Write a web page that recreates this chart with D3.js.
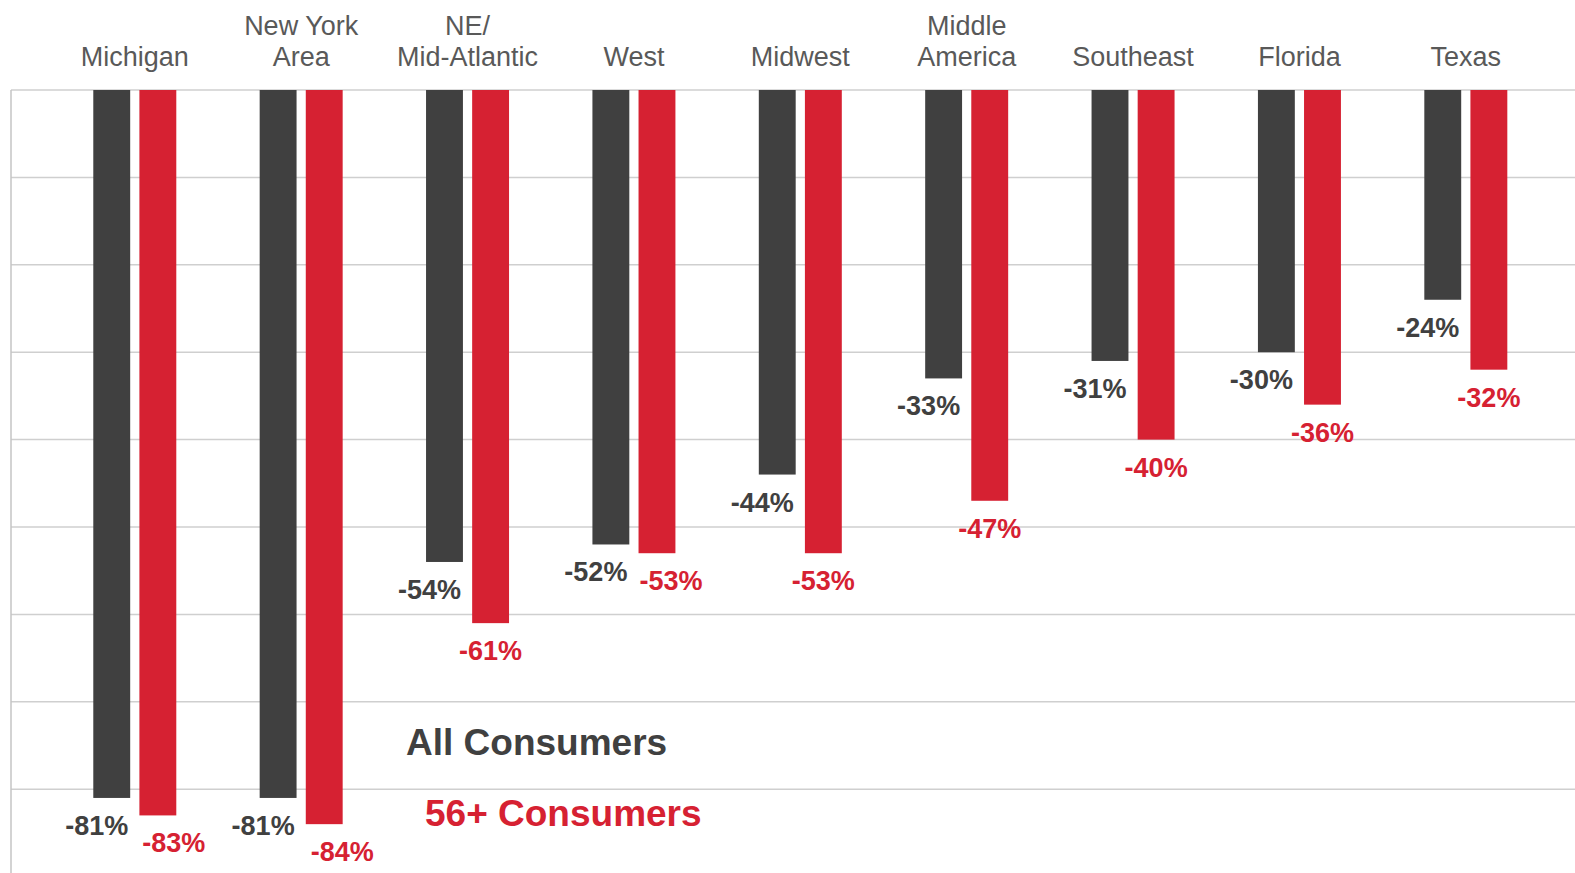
<!DOCTYPE html>
<html>
<head>
<meta charset="utf-8">
<script src="https://cdn.jsdelivr.net/npm/d3@7"></script>
<style>
  html, body { margin: 0; padding: 0; background: #fff; }
  svg { display: block; font-family: "Liberation Sans", Arial, sans-serif; }
</style>
</head>
<body>
<svg id="chart" width="1575" height="873"></svg>
<script>
// Regions (category labels may span two lines)
const regions = [
  ["Michigan"], ["New York", "Area"], ["NE/", "Mid-Atlantic"], ["West"], ["Midwest"],
  ["Middle", "America"], ["Southeast"], ["Florida"], ["Texas"]
];
const regionKeys = regions.map(r => r.join(" "));

// Change by region, percent
const allConsumers = [-81, -81, -54, -52, -44, -33, -31, -30, -24];
const consumers56 = [-83, -84, -61, -53, -53, -47, -40, -36, -32];

const seriesNames = ["All Consumers", "56+ Consumers"];
const gridTicks = [0, -10, -20, -30, -40, -50, -60, -70, -80, -90];

const colors = { "All Consumers": "#404040", "56+ Consumers": "#D62132" };

const svg = d3.select("#chart");
const W = 1575, H = 873;

const y = d3.scaleLinear().domain([-90, 0]).range([876.6, 90]);
const x0 = d3.scaleBand().domain(regionKeys).range([51.6, 1549]);
const x1 = d3.scaleBand().domain(seriesNames).range([-41.5, 41.5]).paddingInner(0.2);

// Percent label with a plain hyphen for the sign
const pct = v => (v < 0 ? "-" : "") + Math.abs(Math.round(v)) + "%";

// Horizontal gridlines
svg.append("g")
  .selectAll("line")
  .data(gridTicks)
  .join("line")
  .attr("x1", 11).attr("x2", W)
  .attr("y1", d => y(d)).attr("y2", d => y(d))
  .attr("stroke", "#CFCFCF")
  .attr("stroke-width", 1.5);

// Vertical axis line
svg.append("line")
  .attr("x1", 11).attr("x2", 11)
  .attr("y1", y(0)).attr("y2", H)
  .attr("stroke", "#C4C4C4")
  .attr("stroke-width", 1.5);

const rows = regionKeys.map((k, i) => ({
  key: k,
  values: [
    { s: "All Consumers", v: allConsumers[i] },
    { s: "56+ Consumers", v: consumers56[i] }
  ]
}));

const groups = svg.append("g")
  .selectAll("g")
  .data(rows)
  .join("g")
  .attr("transform", d => `translate(${x0(d.key) + x0.bandwidth() / 2},0)`);

groups.selectAll("rect")
  .data(d => d.values)
  .join("rect")
  .attr("x", d => x1(d.s))
  .attr("width", x1.bandwidth())
  .attr("y", y(0))
  .attr("height", d => y(d.v) - y(0))
  .attr("fill", d => colors[d.s]);

// Value labels: grey ones sit left of their bar; red ones move right when
// they would collide with the neighbouring grey label
groups.selectAll("text.val")
  .data(d => d.values.map(v => ({ ...v, other: d.values.find(o => o.s !== v.s).v })))
  .join("text")
  .attr("class", "val")
  .attr("x", d => {
    const c = x1(d.s) + x1.bandwidth() / 2;
    if (d.s === "All Consumers") return c - 15;
    const gap = Math.abs(d.v - d.other);
    return gap < 5 ? c + 12 + gap * 2 : c;
  })
  .attr("y", d => y(d.v) + 37)
  .attr("text-anchor", "middle")
  .attr("font-size", 27)
  .attr("font-weight", "bold")
  .attr("fill", d => colors[d.s])
  .text(d => pct(d.v));

// Region names above the plot
const catLabels = svg.append("g")
  .selectAll("text")
  .data(regions)
  .join("text")
  .attr("x", (d, i) => x0(regionKeys[i]) + x0.bandwidth() / 2)
  .attr("text-anchor", "middle")
  .attr("font-size", 27)
  .attr("fill", "#595959");

catLabels.each(function (d) {
  const t = d3.select(this);
  d.forEach((line, j) => {
    t.append("tspan")
      .attr("x", t.attr("x"))
      .attr("y", 66 - (d.length - 1 - j) * 31)
      .text(line);
  });
});

// Series key
svg.append("text")
  .attr("x", 406).attr("y", 755)
  .attr("font-size", 37).attr("font-weight", "bold")
  .attr("fill", colors["All Consumers"])
  .text(seriesNames[0]);

svg.append("text")
  .attr("x", 425).attr("y", 826)
  .attr("font-size", 37).attr("font-weight", "bold")
  .attr("fill", colors["56+ Consumers"])
  .text(seriesNames[1]);
</script>
</body>
</html>
